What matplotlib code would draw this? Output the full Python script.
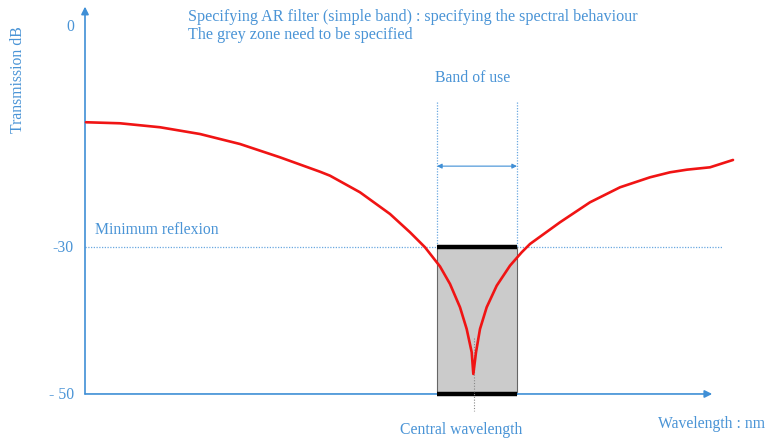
import matplotlib
matplotlib.use("Agg")
import matplotlib.pyplot as plt
from matplotlib.patches import Rectangle

# ---- data ----
wavelength_nm = [61.25, 103.75, 153.75, 203.75, 253.75, 303.75, 353.75, 366.25,
                 403.75, 441.25, 466.25, 485, 503.75, 516.25, 528.75, 537.1,
                 543.4, 545.4, 548.75, 553.75, 562.1, 574.6, 591.25, 605.9,
                 616.25, 653.75, 691.25, 728.75, 766.25, 791.25, 812.5, 841.25, 870]
transmission_db = [-13.03, -13.17, -13.71, -14.63, -15.99, -17.80, -19.76, -20.30,
                   -22.56, -25.51, -28.00, -30.04, -32.65, -35.03, -38.20, -41.16,
                   -44.33, -47.28, -44.33, -41.16, -38.20, -35.27, -32.54, -30.72,
                   -29.59, -26.64, -23.92, -21.88, -20.52, -19.84, -19.48, -19.16, -18.16]
band_start, band_end = 500, 600
central_wl = 546
min_reflexion_db = -30
floor_db = -50
ytick_values = [0, -30, -50]
ytick_labels = ["0", "-30", "- 50"]

BLUE = "#3f8fd6"
DOT = "#6aa8e0"
TXT = "#4a94d6"
FONT = "Liberation Serif"
FS = 11.3

fig = plt.figure(figsize=(7.69, 4.39), dpi=100)
ax = fig.add_axes([0, 0, 1, 1])
ax.set_xlim(-46.25, 915)
ax.set_ylim(-55.99, 3.74)
ax.axis("off")

x0 = 60          # y-axis position
x_end = 844      # x-axis arrow tip

# grey zone
ax.add_patch(Rectangle((band_start, floor_db), band_end - band_start,
                       min_reflexion_db - floor_db, facecolor="#cbcbcb",
                       edgecolor="#666666", linewidth=0.8, zorder=2))
ax.plot([band_start, band_end], [min_reflexion_db]*2, color="black", lw=3.2, zorder=4,
        solid_capstyle="butt")
ax.plot([band_start, band_end], [floor_db]*2, color="black", lw=3.2, zorder=4,
        solid_capstyle="butt")

# minimum reflexion dotted line
ax.plot([x0, 857], [min_reflexion_db]*2, color=DOT, lw=0.9, ls=(0, (1, 1.2)), zorder=1)
ax.text(x0 + 12, min_reflexion_db + 1.3, "Minimum reflexion", color=TXT,
        fontsize=FS, family=FONT, va="bottom", ha="left")

# band of use lines
ax.plot([band_start]*2, [-10.3, min_reflexion_db], color=DOT, lw=0.9, ls=(0, (1, 1.2)), zorder=1)
ax.plot([band_end]*2, [-10.3, min_reflexion_db], color=DOT, lw=0.9, ls=(0, (1, 1.2)), zorder=1)
ax.annotate("", xy=(band_start, -19.0), xytext=(band_end, -19.0),
            arrowprops=dict(arrowstyle="<|-|>", color=BLUE, lw=0.8,
                            mutation_scale=7, shrinkA=0, shrinkB=0))
ax.text(544, -6.87, "Band of use", color=TXT,
        fontsize=FS, family=FONT, ha="center", va="center")

# central wavelength dotted line
ax.plot([central_wl]*2, [-42.4, -52.3], color="#888888", lw=0.8, ls=(0, (1, 1.5)), zorder=5)
ax.text(530, -54.76, "Central wavelength", color=TXT,
        fontsize=FS, family=FONT, ha="center", va="center")

# curve
ax.plot(wavelength_nm, transmission_db, color="#f01414", lw=1.9, zorder=6,
        solid_joinstyle="round", solid_capstyle="round")

# axes with arrows
ax.annotate("", xy=(x0, 2.7), xytext=(x0, floor_db),
            arrowprops=dict(arrowstyle="-|>", color=BLUE, lw=1.2,
                            mutation_scale=11, shrinkA=0, shrinkB=0))
ax.annotate("", xy=(x_end, floor_db), xytext=(x0, floor_db),
            arrowprops=dict(arrowstyle="-|>", color=BLUE, lw=1.2,
                            mutation_scale=11, shrinkA=0, shrinkB=0), zorder=3)

for v, lab in zip(ytick_values, ytick_labels):
    ax.text(x0 - 14, v, lab, color=TXT, fontsize=FS, family=FONT,
            ha="right", va="center")

ax.text(-23.75, -7.14, "Transmission dB", color=TXT, fontsize=FS, family=FONT,
        rotation=90, ha="center", va="center")
ax.text(776, -53.9, "Wavelength : nm", color=TXT, fontsize=FS, family=FONT,
        ha="left", va="center")

ax.text(188.75, 1.4, "Specifying AR filter (simple band) : specifying the spectral behaviour",
        color=TXT, fontsize=11.6, family=FONT, ha="left", va="center")
ax.text(188.75, -1.05, "The grey zone need to be specified",
        color=TXT, fontsize=11.6, family=FONT, ha="left", va="center")

fig.savefig("out.png", dpi=100)
